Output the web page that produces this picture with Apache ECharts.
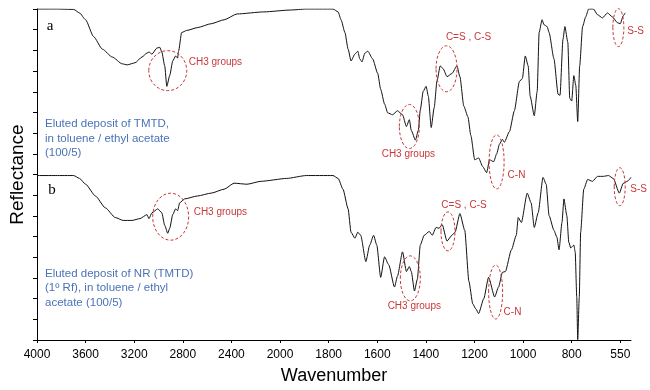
<!DOCTYPE html>
<html>
<head>
    <meta charset="UTF-8"/>
    <title>Reflectance spectra</title>
    <script type="text/javascript" src="https://cdn.jsdelivr.net/npm/echarts@6/dist/echarts.min.js"></script>
    <style>
        html, body { margin: 0; padding: 0; background: #fff; }
    </style>
</head>
<body>
<div id="main" style="width: 650px;height:390px;"></div>

<script type="text/javascript">
    // tick labels of the wavenumber axis (the scale is expanded below 2000)
    var tickWn = [4000, 3600, 3200, 2800, 2400, 2000, 1800, 1600, 1400, 1200, 1000, 800, 550];
    var xEndWn = 495;

    // spectrum a : eluted deposit of TMTD
    var wnA = [4000,3845,3698,3650,3600,3535,3462,3381,3299,3258,
        3193,3136,3095,3079,3054,3014,2990,2973,2949,2932,
        2908,2883,2859,2843,2835,2810,2769,2680,2566,2460,
        2354,2134,1957,1892,1782,1761,1749,1733,1720,1708,
        1692,1680,1672,1663,1651,1639,1619,1598,1586,1570,
        1557,1537,1517,1496,1480,1468,1460,1443,1431,1423,
        1411,1399,1390,1378,1366,1354,1341,1329,1313,1293,
        1272,1260,1244,1227,1215,1199,1183,1166,1150,1138,
        1121,1109,1097,1085,1077,1056,1036,1015,1003,991,
        979,971,954,942,934,922,914,901,893,873,
        856,848,836,828,816,808,800,789,779,769,
        759,744,728,713,688,667,642,616,591,565,
        550,535,525];
    var valA = [16.0,16.0,15.98,15.81,15.48,14.67,14.06,13.68,13.35,13.30,
        13.40,13.68,13.87,13.92,13.82,14.11,14.15,13.92,13.25,12.26,
        12.78,13.49,13.73,13.63,13.96,14.86,14.96,15.10,15.29,15.48,
        15.76,15.86,15.95,16.0,16.0,15.86,15.48,14.86,14.06,13.49,
        13.82,13.96,13.59,13.44,13.87,13.96,13.59,12.88,12.12,11.41,
        10.98,10.89,11.08,10.89,10.32,10.65,10.13,9.66,10.13,11.12,
        12.02,12.26,11.79,10.27,11.22,12.54,13.25,13.11,12.73,12.88,
        13.25,12.73,11.31,10.79,9.89,8.71,8.80,8.38,8.09,8.71,
        8.62,8.99,9.47,9.70,9.56,10.08,11.08,12.50,12.64,13.73,
        13.25,11.79,10.84,12.02,14.86,15.48,15.24,15.15,14.86,13.59,
        11.88,11.83,14.53,15.15,14.39,11.69,11.55,12.78,12.31,10.56,
        13.25,15.15,15.62,16.0,16.0,15.72,15.57,15.81,15.62,15.34,
        15.29,15.67,15.81];

    // spectrum b : eluted deposit of NR (TMTD)
    var wnB = [4000,3845,3698,3650,3600,3519,3438,3356,3291,3218,
        3152,3095,3079,3054,3006,2973,2949,2924,2908,2883,
        2859,2843,2826,2786,2680,2566,2460,2378,2272,2158,
        1973,1892,1782,1761,1741,1720,1708,1692,1680,1668,
        1647,1631,1615,1602,1586,1570,1553,1529,1517,1496,
        1480,1468,1460,1447,1435,1423,1407,1386,1374,1358,
        1346,1333,1313,1293,1280,1260,1240,1223,1207,1195,
        1183,1162,1142,1117,1101,1085,1073,1048,1028,1020,
        1007,983,967,954,938,918,905,893,873,861,
        852,840,832,820,812,804,789,782,774,769,
        761,754,738,718,693,667,637,611,586,555,
        535,514,495];
    var valB = [7.95,7.95,7.95,7.81,7.53,6.96,6.39,5.92,5.78,5.78,
        5.87,6.06,5.87,6.15,6.34,6.15,5.54,5.16,5.40,6.06,
        6.34,6.25,6.63,6.82,6.96,7.10,7.29,7.58,7.53,7.67,
        7.81,7.95,7.95,7.81,7.29,6.34,5.21,4.92,5.21,5.06,
        3.79,4.59,5.06,4.59,3.03,4.02,3.64,2.56,3.08,4.26,
        3.31,3.55,3.31,2.37,2.94,4.59,5.06,5.25,5.06,5.44,
        5.40,5.58,4.78,5.06,5.21,6.11,5.30,2.84,1.75,1.51,
        1.28,1.99,3.03,2.08,2.56,3.27,3.31,4.36,5.06,5.92,
        5.68,7.10,6.63,5.44,6.15,7.86,7.53,6.01,5.30,4.97,
        4.36,5.68,6.82,6.01,4.73,4.45,4.59,4.26,2.08,0.02,
        2.08,5.21,7.29,7.76,7.67,7.91,7.91,7.95,7.81,7.10,
        7.57,7.67,7.86];

    // band annotations: wavenumber, value, label
    var bandWn = [2924, 1468, 1315, 1109, 560, 2900, 1464, 1309, 1113, 553];
    var bandVal = [13.02, 10.32, 13.11, 8.61, 15.10, 5.96, 2.98, 5.25, 2.32, 7.41];
    var bandText = ['CH3 groups', 'CH3 groups', 'C=S , C-S', 'C-N', 'S-S',
        'CH3 groups', 'CH3 groups', 'C=S , C-S', 'C-N', 'S-S'];

    var red = '#c8383a';
    var blue = '#4a72b8';

    // piecewise wavenumber scale: 400/unit above 2000, 200/unit to 800, then 250/unit
    function toU(w) {
        if (w >= 2000) return (4000 - w) / 400;
        if (w >= 800) return 5 + (2000 - w) / 200;
        return 11 + (800 - w) / 250;
    }

    var tickU = tickWn.map(toU);

    function pairs(wn, val) {
        return wn.map(function (w, i) { return [toU(w), val[i]]; });
    }

    var myChart = echarts.init(document.getElementById('main'));

    var option = {
        animation: false,
        backgroundColor: '#fff',
        grid: { left: 31, right: 19, top: 9, bottom: 43 },
        xAxis: {
            type: 'value',
            min: 0,
            max: toU(xEndWn),
            name: 'Wavenumber',
            nameLocation: 'middle',
            nameGap: 27,
            nameTextStyle: { color: '#000', fontSize: 18, fontFamily: 'Liberation Sans' },
            axisLine: { lineStyle: { color: '#000', width: 1 } },
            axisTick: { length: 3, customValues: tickU, lineStyle: { color: '#000' } },
            axisLabel: {
                customValues: tickU,
                margin: 9,
                color: '#000',
                fontSize: 12,
                fontFamily: 'Liberation Sans',
                formatter: function (v) {
                    var i = tickU.findIndex(function (t) { return Math.abs(t - v) < 1e-6; });
                    return i >= 0 ? String(tickWn[i]) : '';
                }
            },
            splitLine: { show: false }
        },
        yAxis: {
            type: 'value',
            min: 0,
            max: 16,
            interval: 1,
            name: 'Reflectance',
            nameLocation: 'middle',
            nameGap: 10,
            nameTextStyle: { color: '#000', fontSize: 19, fontFamily: 'Liberation Sans' },
            axisLine: { show: true, lineStyle: { color: '#000', width: 1 } },
            axisTick: { show: true, length: 4, lineStyle: { color: '#000' } },
            axisLabel: { show: false },
            splitLine: { show: false }
        },
        series: [
            {
                name: 'a',
                type: 'line',
                data: pairs(wnA, valA),
                showSymbol: false,
                smooth: 0.2,
                smoothMonotone: 'x',
                lineStyle: { color: '#111', width: 1 }
            },
            {
                name: 'b',
                type: 'line',
                data: pairs(wnB, valB),
                showSymbol: false,
                smooth: 0.2,
                smoothMonotone: 'x',
                lineStyle: { color: '#111', width: 1 }
            }
        ]
    };
    myChart.setOption(option);

    // ellipse sizes and label offsets in pixels, one per band
    var ellR = [[19, 20], [10, 22], [10.5, 23], [7.5, 27], [5.5, 19],
        [18, 23.5], [10, 22.5], [7, 19.5], [7, 27], [5.5, 19]];
    var labOff = [[21, -8, 'left'], [-1, 28, 'center'], [22, -32, 'center'], [11, 13, 'left'], [9, 4, 'left'],
        [23, -4, 'left'], [4, 28, 'center'], [16, -26, 'center'], [8, 20, 'left'], [10.5, 2.5, 'left']];

    var graphics = [];
    bandWn.forEach(function (w, i) {
        var p = myChart.convertToPixel({ gridIndex: 0 }, [toU(w), bandVal[i]]);
        graphics.push({
            type: 'ellipse',
            shape: { cx: p[0], cy: p[1], rx: ellR[i][0], ry: ellR[i][1] },
            style: { fill: 'none', stroke: red, lineWidth: 1, lineDash: [3, 2] },
            z: 100
        });
        graphics.push({
            type: 'text',
            x: p[0] + labOff[i][0],
            y: p[1] + labOff[i][1],
            style: {
                text: bandText[i], fill: red, fontSize: 10, fontFamily: 'Liberation Sans',
                align: labOff[i][2], verticalAlign: 'middle'
            },
            z: 100
        });
    });

    // panel letters and sample descriptions
    var pA = myChart.convertToPixel({ gridIndex: 0 }, [0, 16]);
    var pB = myChart.convertToPixel({ gridIndex: 0 }, [0, 8]);
    graphics.push({
        type: 'text', x: pA[0] + 13, y: pA[1] + 17,
        style: { text: 'a', fill: '#000', fontSize: 15, fontFamily: 'Liberation Serif', align: 'center', verticalAlign: 'middle' }
    });
    graphics.push({
        type: 'text', x: pB[0] + 15, y: pB[1] + 16,
        style: { text: 'b', fill: '#000', fontSize: 15, fontFamily: 'Liberation Serif', align: 'center', verticalAlign: 'middle' }
    });
    graphics.push({
        type: 'text', x: pA[0] + 8, y: pA[1] + 108,
        style: {
            text: 'Eluted deposit of TMTD,\nin toluene / ethyl acetate\n(100/5)',
            fill: blue, fontSize: 11.5, lineHeight: 14.5, fontFamily: 'Liberation Sans', verticalAlign: 'top'
        }
    });
    graphics.push({
        type: 'text', x: pB[0] + 8, y: pB[1] + 92,
        style: {
            text: 'Eluted deposit of NR (TMTD)\n(1\u00ba Rf), in toluene / ethyl\nacetate (100/5)',
            fill: blue, fontSize: 11.5, lineHeight: 14.5, fontFamily: 'Liberation Sans', verticalAlign: 'top'
        }
    });

    myChart.setOption({ graphic: graphics });
</script>
</body>
</html>
